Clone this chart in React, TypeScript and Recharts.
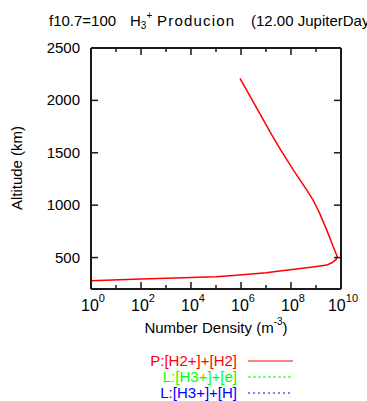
import React from "react";
import { LineChart, Line, XAxis, YAxis } from "recharts";

// P:[H2+]+[H2] production profile (path order: bottom branch, turn, upper branch)
const altitude = [279, 295, 309, 317, 328, 340, 355, 374, 393, 412, 428, 450, 480, 508, 603, 762, 922, 1033, 1144, 1335, 1526, 1700, 1876, 2210];
const density = [1, 1e2, 1e4, 1e5, 5e5, 2e6, 1e7, 4.3e7, 2e8, 9.1e8, 2.7e9, 4.3e9, 6.3e9, 7.1e9, 4.9e9, 2.7e9, 1.4e9, 8.3e8, 4.3e8, 1.25e8, 3.9e7, 1.45e7, 5.6e6, 9.1e5];

const xTicks = [1, 1e1, 1e2, 1e3, 1e4, 1e5, 1e6, 1e7, 1e8, 1e9, 1e10];
const yTicks = [500, 1000, 1500, 2000, 2500];

const legendItems = [
  { name: "P:[H2+]+[H2]", color: "#ff0000", dash: undefined },
  { name: "L:[H3+]+[e]", color: "#00ff00", dash: "3 2" },
  { name: "L:[H3+]+[H]", color: "#0000ff", dash: "2 3" },
];

const data = altitude.map((a, i) => ({ alt: a, dens: density[i] }));

const FONT = "'Liberation Sans', Arial, sans-serif";
const FRAME = "#1a1a1a";

const expOf = (v: number) => Math.round(Math.log10(v));

const BottomTick = (props: any) => {
  const { x, y, payload } = props;
  const e = expOf(payload.value);
  const major = e % 2 === 0;
  return (
    <g>
      <line x1={x} y1={y} x2={x} y2={y - (major ? 7 : 4)} stroke={FRAME} strokeWidth={1.5} />
      {major && (
        <text x={x + 2} y={y + 22} textAnchor="middle" fontFamily={FONT} fontSize={16} fill="#000">
          10
          <tspan dy={-9} fontSize={11}>{e}</tspan>
        </text>
      )}
    </g>
  );
};

const TopTick = (props: any) => {
  const { x, y, payload } = props;
  const major = expOf(payload.value) % 2 === 0;
  return <line x1={x} y1={y} x2={x} y2={y + (major ? 7 : 4)} stroke={FRAME} strokeWidth={1.5} />;
};

const LeftTick = (props: any) => {
  const { x, y, payload } = props;
  return (
    <g>
      <line x1={x} y1={y} x2={x + 7} y2={y} stroke={FRAME} strokeWidth={1.5} />
      <text x={x - 11} y={y + 5} textAnchor="end" fontFamily={FONT} fontSize={15} fill="#000">
        {payload.value}
      </text>
    </g>
  );
};

const RightTick = (props: any) => {
  const { x, y } = props;
  return <line x1={x} y1={y} x2={x - 7} y2={y} stroke={FRAME} strokeWidth={1.5} />;
};

export default function App() {
  return (
    <div style={{ position: "absolute", left: 0, top: 0, width: 367, height: 401, background: "#fff", overflow: "hidden" }}>
      <LineChart width={367} height={401} data={data} margin={{ top: 47, right: 25, bottom: 111, left: 0 }}>
        <XAxis
          xAxisId="b"
          dataKey="dens"
          type="number"
          scale="log"
          domain={[1, 1e10]}
          ticks={xTicks}
          interval={0}
          height={1}
          tickSize={0}
          tickMargin={0}
          allowDataOverflow
          axisLine={{ stroke: FRAME, strokeWidth: 2 }}
          tick={<BottomTick />}
        />
        <XAxis
          xAxisId="t"
          orientation="top"
          dataKey="dens"
          type="number"
          scale="log"
          domain={[1, 1e10]}
          ticks={xTicks}
          interval={0}
          height={1}
          tickSize={0}
          tickMargin={0}
          allowDataOverflow
          axisLine={{ stroke: FRAME, strokeWidth: 2 }}
          tick={<TopTick />}
        />
        <YAxis
          yAxisId="l"
          dataKey="alt"
          type="number"
          domain={[200, 2500]}
          ticks={yTicks}
          interval={0}
          width={91}
          tickSize={0}
          tickMargin={0}
          allowDataOverflow
          axisLine={{ stroke: FRAME, strokeWidth: 2 }}
          tick={<LeftTick />}
        />
        <YAxis
          yAxisId="r"
          orientation="right"
          dataKey="alt"
          type="number"
          domain={[200, 2500]}
          ticks={yTicks}
          interval={0}
          width={1}
          tickSize={0}
          tickMargin={0}
          allowDataOverflow
          axisLine={{ stroke: FRAME, strokeWidth: 2 }}
          tick={<RightTick />}
        />
        <Line
          xAxisId="b"
          yAxisId="l"
          dataKey="alt"
          type="linear"
          stroke="#ff0000"
          strokeWidth={1.5}
          strokeLinejoin="round"
          dot={false}
          isAnimationActive={false}
        />
      </LineChart>
      <svg width={367} height={401} style={{ position: "absolute", left: 0, top: 0, pointerEvents: "none" }}>
        <text y={26} fontFamily={FONT} fontSize={15} fill="#000" style={{ whiteSpace: "pre" }}>
          <tspan x={49}>f10.7=100</tspan>
          <tspan x={130}>H</tspan>
          <tspan dy={3} fontSize={10}>3</tspan>
          <tspan dy={-10} fontSize={10}>+</tspan>
          <tspan x={157} dy={7} letterSpacing={1.2}>Producion</tspan>
          <tspan x={251}>(12.00 JupiterDay)</tspan>
        </text>
        <text x={216} y={333} textAnchor="middle" fontFamily={FONT} fontSize={15} fill="#000">
          Number Density (m<tspan dy={-8} fontSize={10}>-3</tspan>
          <tspan dy={8}>)</tspan>
        </text>
        <text
          x={0}
          y={0}
          transform="translate(22 168) rotate(-90)"
          textAnchor="middle"
          fontFamily={FONT}
          fontSize={15}
          fill="#000"
        >
          Altitude (km)
        </text>
        {legendItems.map((it, i) => (
          <g key={it.name}>
            <text x={237} y={366 + i * 16} textAnchor="end" fontFamily={FONT} fontSize={15} fill={it.color}>
              {it.name}
            </text>
            <line
              x1={248}
              x2={293}
              y1={361 + i * 16}
              y2={361 + i * 16}
              stroke={it.color}
              strokeWidth={1.2}
              strokeDasharray={it.dash}
            />
          </g>
        ))}
      </svg>
    </div>
  );
}
